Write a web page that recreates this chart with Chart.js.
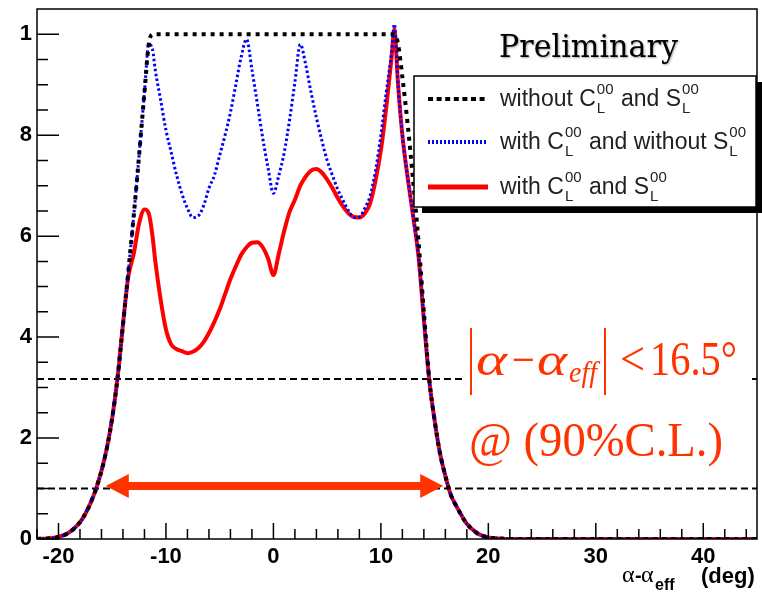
<!DOCTYPE html>
<html>
<head>
<meta charset="utf-8">
<script src="https://cdn.jsdelivr.net/npm/chart.js@4.4.0/dist/chart.umd.min.js"></script>
<style>
  html, body { margin: 0; padding: 0; background: #fff; }
  #wrap { width: 762px; height: 595px; }
</style>
</head>
<body>
<div id="wrap"><canvas id="chart"></canvas></div>
<script>
// alpha - alpha_eff (deg)
const alphaDiff = [
  -22, -21, -20, -19, -18, -17.5, -17, -16.5, -16, -15.5, -15, -14.5, -14, -13.5, -13, -12.5, -12,
  -11.6, -11.25,
  -11, -10.5, -10, -9.5, -9, -8.5, -8, -7.5, -7,
  -6.5, -6, -5.5, -5, -4.5, -4, -3.5, -3, -2.5,
  -2, -1.5, -1, -0.5, 0, 0.5, 1, 1.5, 2,
  2.5, 3, 3.5, 4, 4.5, 5, 5.5, 6, 6.5,
  7, 7.5, 8, 8.5, 9, 9.5, 10, 10.5, 11,
  11.25, 11.6,
  12, 12.5, 13, 13.5, 14, 14.5, 15, 15.5, 16, 16.5, 17, 17.5, 18, 19, 20, 21, 22, 25, 30, 35, 40, 45
];

// 1 - C.L. without C00 and S00
const withoutCS = [
  0, 0.001, 0.004, 0.013, 0.033, 0.05, 0.072, 0.1, 0.135, 0.18, 0.24, 0.32, 0.425, 0.53, 0.64, 0.76, 0.885,
  0.98, 1,
  1, 1, 1, 1, 1, 1, 1, 1, 1,
  1, 1, 1, 1, 1, 1, 1, 1, 1,
  1, 1, 1, 1, 1, 1, 1, 1, 1,
  1, 1, 1, 1, 1, 1, 1, 1, 1,
  1, 1, 1, 1, 1, 1, 1, 1, 1,
  1, 0.98,
  0.915, 0.82, 0.71, 0.59, 0.45, 0.317, 0.235, 0.17, 0.125, 0.088, 0.066, 0.047, 0.03, 0.011, 0.003, 0.001, 0, 0, 0, 0, 0, 0
];

// with C00, without S00
const withCnoS = [
  0, 0.001, 0.004, 0.013, 0.033, 0.05, 0.072, 0.1, 0.135, 0.18, 0.24, 0.32, 0.425, 0.53, 0.64, 0.76, 0.885,
  0.98, 0.97,
  0.93, 0.87, 0.81, 0.765, 0.72, 0.683, 0.655, 0.637, 0.64,
  0.66, 0.695, 0.72, 0.76, 0.8, 0.845, 0.9, 0.955, 0.99,
  0.93, 0.863, 0.795, 0.735, 0.685, 0.72, 0.765, 0.83, 0.905,
  0.98, 0.94, 0.885, 0.835, 0.79, 0.75, 0.72, 0.692, 0.67,
  0.65, 0.637, 0.638, 0.655, 0.68, 0.73, 0.8, 0.885, 0.965,
  1.02, 0.9,
  0.8, 0.715, 0.64, 0.56, 0.435, 0.315, 0.235, 0.17, 0.125, 0.088, 0.066, 0.047, 0.03, 0.011, 0.003, 0.001, 0, 0, 0, 0, 0, 0
];

// with C00 and S00
const withCS = [
  0, 0.001, 0.004, 0.013, 0.033, 0.05, 0.072, 0.1, 0.135, 0.18, 0.24, 0.32, 0.425, 0.52, 0.565, 0.625, 0.653,
  0.645, 0.6,
  0.552, 0.475, 0.415, 0.385, 0.376, 0.372, 0.368, 0.371, 0.378,
  0.39, 0.408, 0.43, 0.455, 0.485, 0.515, 0.54, 0.563, 0.578,
  0.587, 0.588, 0.578, 0.556, 0.523, 0.565, 0.61, 0.648, 0.672,
  0.7, 0.718, 0.73, 0.733, 0.726, 0.712, 0.695, 0.675, 0.658,
  0.645, 0.638, 0.637, 0.645, 0.665, 0.71, 0.77, 0.855, 0.955,
  1.01, 0.9,
  0.8, 0.715, 0.64, 0.56, 0.435, 0.315, 0.235, 0.17, 0.125, 0.088, 0.066, 0.047, 0.03, 0.011, 0.003, 0.001, 0, 0, 0, 0, 0, 0
];

// reference levels (68% and 90% C.L.)
const clLevels = [0.317, 0.1];
// 90% C.L. interval arrow
const arrowFrom = -15.6, arrowTo = 15.8, arrowLevel = 0.105;

const xMajorTicks = [-20, -10, 0, 10, 20, 30, 40];
const yMajorTicks = [0, 0.2, 0.4, 0.6, 0.8, 1];
const yTickLabels = ['0', '2', '4', '6', '8', '1'];

const xMin = -22, xMax = 45, yMin = 0, yMax = 1.05;
const annotRed = '#ff3300';

const pts = vals => alphaDiff.map((a, i) => ({ x: a, y: vals[i] }));

// draw text with super/subscripts, returns end x
function richText(ctx, parts, x, base) {
  parts.forEach(p => {
    if (p.t) {
      ctx.font = '23px "Liberation Sans", Arial, sans-serif';
      ctx.fillText(p.t, x, base);
      x += ctx.measureText(p.t).width;
    } else {
      ctx.font = '15px "Liberation Sans", Arial, sans-serif';
      ctx.fillText(p.sup, x + 1, base - 12);
      ctx.fillText(p.sub, x + 1, base + 7);
      x += Math.max(ctx.measureText(p.sup).width, ctx.measureText(p.sub).width) + 2;
    }
  });
  return x;
}

// draw text squeezed/stretched to a target width
function fitText(ctx, txt, x, base, w) {
  const m = ctx.measureText(txt).width;
  ctx.save();
  ctx.translate(x, base);
  ctx.scale(w / m, 1);
  ctx.fillText(txt, 0, 0);
  ctx.restore();
}

const legendRows = [
  { color: '#000', width: 4, dash: [5, 3.6], parts: [{ t: 'without C' }, { sup: '00', sub: 'L' }, { t: ' and S' }, { sup: '00', sub: 'L' }] },
  { color: '#0000ff', width: 4, dash: [2, 2], parts: [{ t: 'with C' }, { sup: '00', sub: 'L' }, { t: ' and without S' }, { sup: '00', sub: 'L' }] },
  { color: '#ff0000', width: 5, dash: [], parts: [{ t: 'with C' }, { sup: '00', sub: 'L' }, { t: ' and S' }, { sup: '00', sub: 'L' }] }
];

const decor = {
  id: 'decor',
  afterDatasetsDraw(chart) {
    const { ctx, scales: { x, y } } = chart;
    ctx.save();

    // arrow for 90% C.L. interval
    const x1 = x.getPixelForValue(arrowFrom), x2 = x.getPixelForValue(arrowTo), ya = y.getPixelForValue(arrowLevel);
    const head = 23, half = 12, shaft = 4;
    ctx.fillStyle = annotRed;
    ctx.beginPath();
    ctx.moveTo(x1, ya);
    ctx.lineTo(x1 + head, ya - half);
    ctx.lineTo(x1 + head, ya - shaft);
    ctx.lineTo(x2 - head, ya - shaft);
    ctx.lineTo(x2 - head, ya - half);
    ctx.lineTo(x2, ya);
    ctx.lineTo(x2 - head, ya + half);
    ctx.lineTo(x2 - head, ya + shaft);
    ctx.lineTo(x1 + head, ya + shaft);
    ctx.lineTo(x1 + head, ya + half);
    ctx.closePath();
    ctx.fill();

    // confidence text on white
    ctx.fillStyle = '#fff';
    ctx.fillRect(462, 322, 286, 148);
    ctx.fillStyle = annotRed;
    ctx.strokeStyle = annotRed;
    ctx.lineWidth = 2;
    ctx.beginPath();
    ctx.moveTo(471, 328); ctx.lineTo(471, 395);
    ctx.moveTo(605, 328); ctx.lineTo(605, 395);
    ctx.stroke();
    ctx.textBaseline = 'alphabetic';
    ctx.font = 'italic 46px "Liberation Serif", serif';
    fitText(ctx, 'α', 476, 375, 31);
    ctx.font = '46px "Liberation Serif", serif';
    fitText(ctx, '−', 512, 375, 23);
    ctx.font = 'italic 46px "Liberation Serif", serif';
    fitText(ctx, 'α', 537, 375, 30);
    ctx.font = 'italic 29px "Liberation Serif", serif';
    fitText(ctx, 'eff', 569, 382, 28);
    ctx.font = '48px "Liberation Serif", serif';
    fitText(ctx, '<', 620, 375, 25);
    fitText(ctx, '16.5°', 650, 375, 87);
    fitText(ctx, '@ (90%C.L.)', 469, 456, 254);

    // Preliminary
    ctx.fillStyle = '#000';
    ctx.shadowColor = 'rgba(0,0,0,0.35)';
    ctx.shadowOffsetX = 1;
    ctx.shadowOffsetY = 1;
    ctx.shadowBlur = 2;
    ctx.font = '31px "DejaVu Serif", serif';
    fitText(ctx, 'Preliminary', 499, 57, 179);
    ctx.shadowColor = 'transparent';

    // legend box
    const lx = 414, ly = 76, lw = 342, lh = 131;
    ctx.fillStyle = '#000';
    ctx.fillRect(lx + 8, ly + 6, lw, lh);
    ctx.fillStyle = '#fff';
    ctx.fillRect(lx, ly, lw, lh);
    ctx.strokeStyle = '#000';
    ctx.lineWidth = 1.5;
    ctx.strokeRect(lx, ly, lw, lh);
    const rowY = [99, 142, 187];
    legendRows.forEach((r, i) => {
      ctx.strokeStyle = r.color;
      ctx.lineWidth = r.width;
      ctx.setLineDash(r.dash);
      ctx.beginPath();
      ctx.moveTo(428, rowY[i]);
      ctx.lineTo(488, rowY[i]);
      ctx.stroke();
      ctx.setLineDash([]);
      ctx.fillStyle = '#222';
      richText(ctx, r.parts, 500, rowY[i] + 7);
    });
    ctx.restore();
  },
  afterDraw(chart) {
    const { ctx, chartArea: a, scales: { x, y } } = chart;
    ctx.save();
    ctx.strokeStyle = '#000';
    ctx.lineWidth = 1.5;
    ctx.strokeRect(a.left, a.top, a.right - a.left, a.bottom - a.top);
    // inside ticks
    ctx.beginPath();
    x.ticks.forEach(t => {
      const px = x.getPixelForValue(t.value);
      const len = xMajorTicks.includes(t.value) ? 16 : 10;
      ctx.moveTo(px, a.bottom);
      ctx.lineTo(px, a.bottom - len);
    });
    y.ticks.forEach(t => {
      const py = y.getPixelForValue(t.value);
      const major = yMajorTicks.some(v => Math.abs(v - t.value) < 1e-6);
      ctx.moveTo(a.left, py);
      ctx.lineTo(a.left + (major ? 22 : 11), py);
    });
    ctx.stroke();

    // x axis title
    ctx.fillStyle = '#000';
    ctx.textBaseline = 'alphabetic';
    ctx.font = '24px "Liberation Serif", serif';
    ctx.fillText('α', 622, 582);
    ctx.font = 'bold 20px "Liberation Sans", Arial, sans-serif';
    ctx.fillText('-', 635, 582);
    ctx.font = '24px "Liberation Serif", serif';
    ctx.fillText('α', 641, 582);
    ctx.font = 'bold 16px "Liberation Sans", Arial, sans-serif';
    ctx.fillText('eff', 655, 590);
    ctx.font = 'bold 22px "Liberation Sans", Arial, sans-serif';
    ctx.fillText('(deg)', 701, 583);
    ctx.restore();
  }
};

new Chart(document.getElementById('chart'), {
  type: 'line',
  data: {
    datasets: [
      { label: 'without C00 and S00', data: pts(withoutCS), borderColor: '#000', borderWidth: 4, borderDash: [4, 5], order: 1 },
      { label: 'with C00 and without S00', data: pts(withCnoS), borderColor: '#0000ff', borderWidth: 3, borderDash: [2.5, 2.5], order: 2 },
      { label: 'with C00 and S00', data: pts(withCS), borderColor: '#ff0000', borderWidth: 4, order: 3 },
      ...clLevels.map(v => ({
        label: 'level ' + v,
        data: [{ x: xMin, y: v }, { x: xMax, y: v }],
        borderColor: '#000', borderWidth: 2, borderDash: [7, 4], order: 4
      }))
    ]
  },
  options: {
    responsive: true,
    maintainAspectRatio: false,
    animation: false,
    layout: { padding: { top: 9, right: 5, left: 0, bottom: 0 } },
    elements: {
      point: { radius: 0 },
      line: { cubicInterpolationMode: 'monotone', fill: false }
    },
    plugins: { legend: { display: false }, tooltip: { enabled: false } },
    scales: {
      x: {
        type: 'linear', min: xMin, max: xMax,
        grid: { display: false, drawTicks: false },
        border: { display: false },
        afterBuildTicks: s => {
          const t = [];
          for (let v = -22; v <= 44; v += 2) t.push({ value: v });
          s.ticks = t;
        },
        afterFit: s => { s.height = 56; s.paddingLeft = 0; s.paddingRight = 0; },
        ticks: {
          autoSkip: false, maxRotation: 0, padding: 5,
          color: '#000',
          font: { family: '"Liberation Sans", Arial, sans-serif', size: 22, weight: 'bold' },
          callback: v => xMajorTicks.includes(v) ? String(v) : ''
        }
      },
      y: {
        type: 'linear', min: yMin, max: yMax,
        grid: { display: false, drawTicks: false },
        border: { display: false },
        afterBuildTicks: s => {
          const t = [];
          for (let i = 0; i <= 20; i++) t.push({ value: i * 0.05 });
          s.ticks = t;
        },
        afterFit: s => { s.width = 37; s.paddingTop = 0; s.paddingBottom = 0; },
        ticks: {
          autoSkip: false, padding: 5,
          color: '#000',
          font: { family: '"Liberation Sans", Arial, sans-serif', size: 22, weight: 'bold' },
          callback: v => {
            const k = yMajorTicks.findIndex(m => Math.abs(m - v) < 1e-6);
            return k >= 0 ? yTickLabels[k] : '';
          }
        }
      }
    }
  },
  plugins: [decor]
});
</script>
</body>
</html>
